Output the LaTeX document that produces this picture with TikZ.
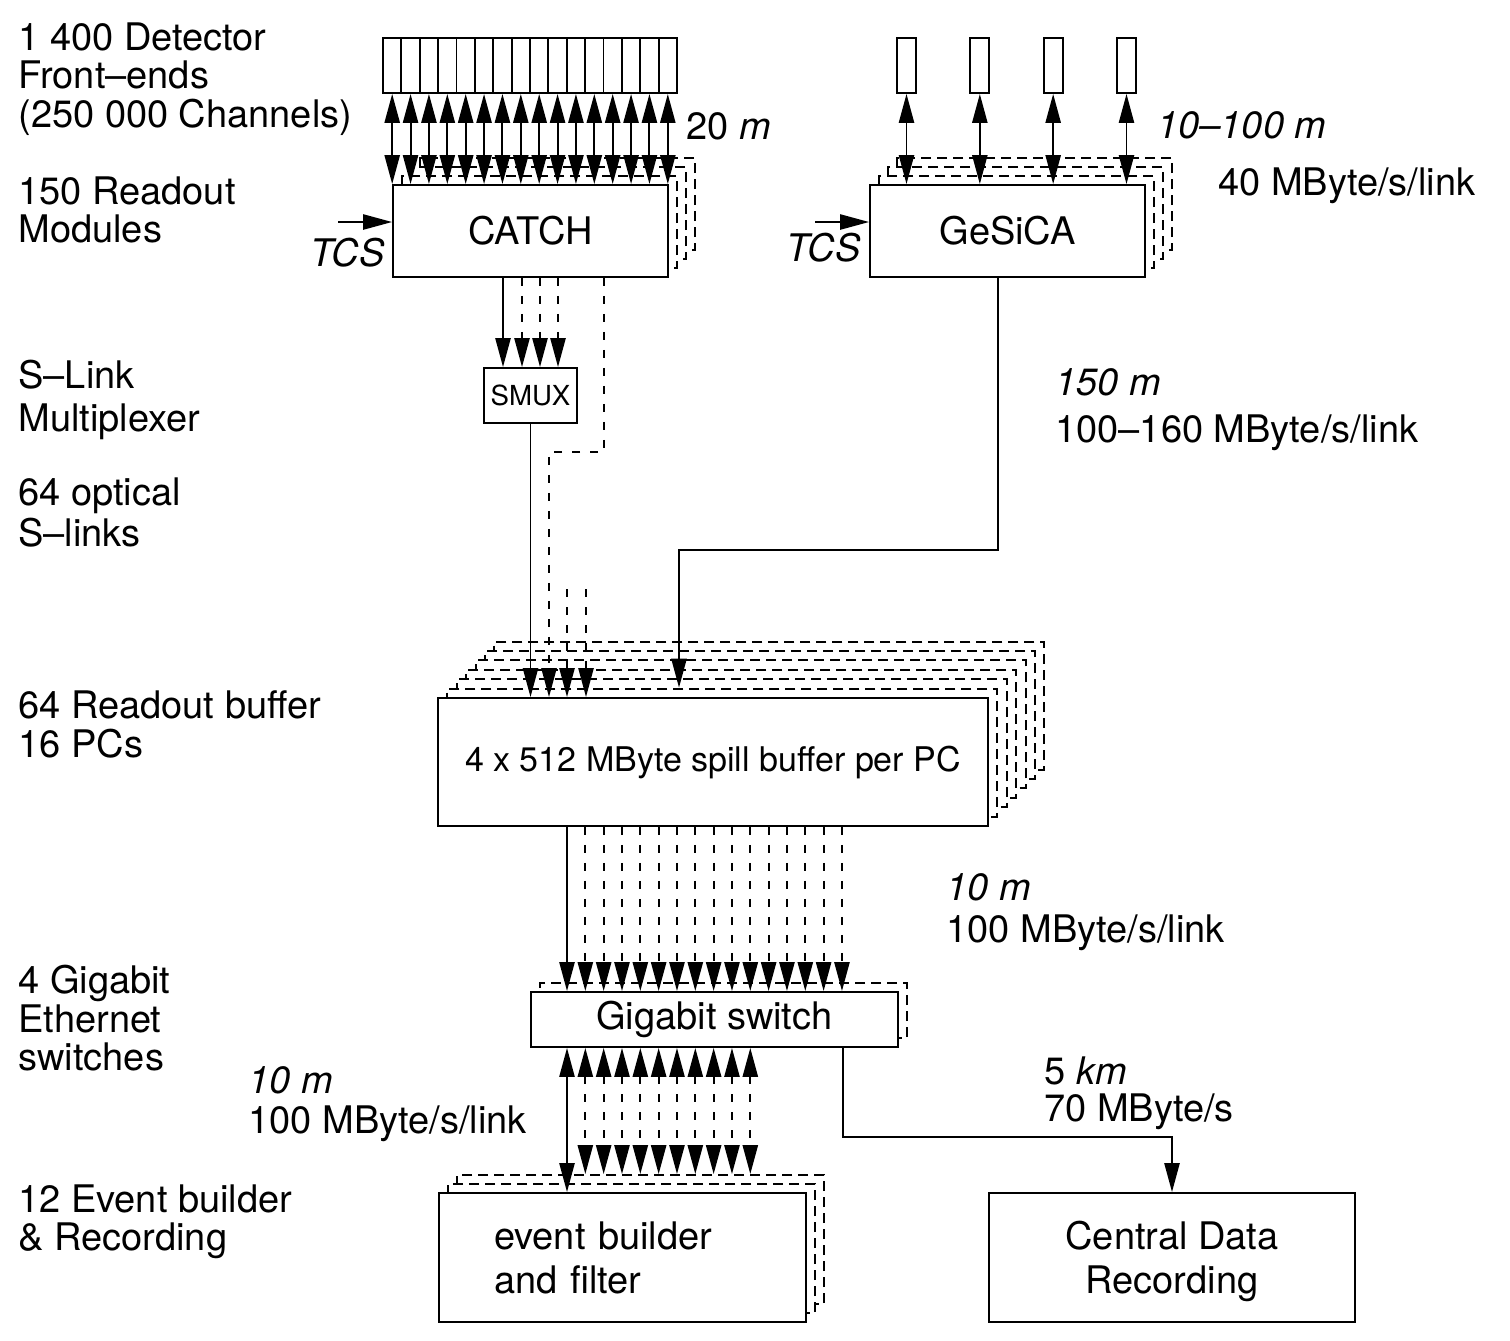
\documentclass[tikz,border=0pt]{standalone}
\usepackage{fontspec}
\setmainfont{TeX Gyre Heros}
\usetikzlibrary{arrows.meta,calc}
\begin{document}
\begin{tikzpicture}[x=0.5pt,y=-0.5pt,
  ln/.style={line width=0.95pt},
  dl/.style={line width=0.95pt, dash pattern=on 4pt off 5pt},
  box/.style={draw, line width=0.95pt, fill=white, inner sep=0pt, font=\fontsize{19}{22}\selectfont},
  stk/.style={draw, line width=0.95pt, fill=white, dash pattern=on 5pt off 3pt, inner sep=0pt},
  fe/.style={draw, line width=0.95pt, fill=white, inner sep=0pt, minimum height=27.5pt},
  lab/.style={anchor=base west, inner sep=0pt, font=\fontsize{19}{22}\selectfont},
  tip/.style={-{Triangle[length=14.5pt,width=7.6pt]}},
  dtip/.style={{Triangle[length=14.5pt,width=7.6pt]}-{Triangle[length=14.5pt,width=7.6pt]}},
]
\useasboundingbox[fill=white] (0,0) rectangle (1510,1340);

% ---------------- left labels ----------------
\node[lab] (la1) at (18,50) {1 400 Detector};
\node[lab] (la2) at (18,88) {Front–ends};
\node[lab] (la3) at (18,127) {(250 000 Channels)};
\node[lab] (lb1) at (18,204) {150 Readout};
\node[lab] (lb2) at (18,242) {Modules};
\node[lab] (lc1) at (18,388) {S–Link};
\node[lab] (lc2) at (18,431) {Multiplexer};
\node[lab] (ld1) at (18,505) {64 optical};
\node[lab] (ld2) at (18,546) {S–links};
\node[lab] (le1) at (18,718) {64 Readout buffer};
\node[lab] (le2) at (18,757) {16 PCs};
\node[lab] (lf1) at (18,993) {4 Gigabit};
\node[lab] (lf2) at (18,1032) {Ethernet};
\node[lab] (lf3) at (18,1070) {switches};
\node[lab] (lg1) at (18,1212) {12 Event builder};
\node[lab] (lg2) at (18,1250) {\& Recording};
\node[lab] (lh1) at (248,1093) {\itshape 10 m};
\node[lab] (lh2) at (248,1133) {100 MByte/s/link};

% ---------------- right labels ----------------
\node[lab] (r1) at (686,139) {20 \textit{m}};
\node[lab] (r2) at (1157,138) {\itshape 10–100 m};
\node[lab] (r3) at (1218,195) {40 MByte/s/link};
\node[lab] (r4) at (1055,395) {\itshape 150 m};
\node[lab] (r5) at (1055,442) {100–160 MByte/s/link};
\node[lab] (r6) at (946,900) {\itshape 10 m};
\node[lab] (r7) at (946,942) {100 MByte/s/link};
\node[lab] (r8) at (1044,1084) {5 \textit{km}};
\node[lab] (r9) at (1044,1121) {70 MByte/s};

% ---------------- CATCH ----------------
\foreach \k in {3,2,1} {
  \pgfmathsetmacro\s{\k*4.5}
  \node[stk, minimum width=137.5pt, minimum height=46pt, xshift=\s pt, yshift=\s pt] at (530.5,231) {};
}
\node[box, minimum width=137.5pt, minimum height=46pt] (catch) at (530.5,231) {CATCH};
\foreach \i in {1,...,16} {
  \node[fe, minimum width=9.1875pt] (fe\i) at ({383+18.375*(\i-0.5)},65.5) {};
}
\foreach \i in {1,...,16} {
  \draw[ln,dtip] (fe\i.south) -- (fe\i.south |- catch.north);
}
\coordinate (tcsa) at (338,222);
\draw[ln,tip] (tcsa) -- (tcsa -| catch.west);
\node[lab] (tcs1) at (310,266) {\itshape TCS};

% ---------------- GeSiCA ----------------
\foreach \k in {3,2,1} {
  \pgfmathsetmacro\s{\k*4.5}
  \node[stk, minimum width=137.5pt, minimum height=46pt, xshift=\s pt, yshift=\s pt] at (1007.5,231) {};
}
\node[box, minimum width=137.5pt, minimum height=46pt] (gesica) at (1007.5,231) {GeSiCA};
\foreach \i in {1,...,4} {
  \node[fe, minimum width=9.5pt] (gf\i) at ({906.5+73.33*(\i-1)},65.5) {};
}
\foreach \i in {1,...,4} {
  \draw[ln,dtip] (gf\i.south) -- (gf\i.south |- gesica.north);
}
\coordinate (tcsb) at (815,222);
\draw[ln,tip] (tcsb) -- (tcsb -| gesica.west);
\node[lab] (tcs2) at (786,261) {\itshape TCS};

% ---------------- SMUX ----------------
\node[box, minimum width=46.5pt, minimum height=27.5pt, font=\fontsize{13.8}{16}\selectfont] (smux) at (530.5,395.5) {SMUX};

% ---------------- Readout buffer ----------------
\foreach \k in {6,5,4,3,2,1} {
  \pgfmathsetmacro\s{\k*4.7}
  \node[stk, minimum width=275pt, minimum height=64pt, xshift=\s pt, yshift=\s pt] at (713,762) {};
}
\node[box, minimum width=275pt, minimum height=64pt, font=\fontsize{17}{20}\selectfont] (buf) at (713,762) {4 x 512 MByte spill buffer per PC};

% ---------------- Gigabit switch ----------------
\node[stk, minimum width=183.5pt, minimum height=27.5pt, xshift=4.5pt, yshift=4.5pt] at (714.5,1019.5) {};
\node[box, minimum width=183.5pt, minimum height=27.5pt] (sw) at (714.5,1019.5) {Gigabit switch};

% ---------------- Event builder ----------------
\foreach \k in {2,1} {
  \pgfmathsetmacro\s{\k*4.5}
  \node[stk, minimum width=183.5pt, minimum height=64.5pt, xshift=\s pt, yshift=\s pt] at (622.5,1257.5) {};
}
\node[box, minimum width=183.5pt, minimum height=64.5pt, align=left, text width=128.5pt, inner xsep=27.5pt] (eb) at (622.5,1257.5) {event builder\\and filter};

% ---------------- Central Data Recording ----------------
\node[box, minimum width=183pt, minimum height=64.5pt, align=center] (cdr) at (1172,1257.5) {Central Data\\\smash{Recording}};

% ---------------- CATCH -> SMUX ----------------
\coordinate (c1) at (503,0);
\coordinate (c2) at (522,0);
\coordinate (c3) at (540,0);
\coordinate (c4) at (558,0);
\draw[ln,tip] (c1 |- catch.south) -- (c1 |- smux.north);
\foreach \c in {c2,c3,c4} {
  \draw[dl,tip] (\c |- catch.south) -- (\c |- smux.north);
}

% ---------------- to readout buffer ----------------
\draw[ln,tip] (smux.south) -- (smux.south |- buf.north);
\coordinate (d1) at (604,452);
\coordinate (d2) at (549,452);
\draw[dl,tip] (d1 |- catch.south) -- (d1) -- (d2) -- (d2 |- buf.north);
\coordinate (d3) at (567,589);
\coordinate (d4) at (586,589);
\draw[dl,tip] (d3) -- (d3 |- buf.north);
\draw[dl,tip] (d4) -- (d4 |- buf.north);
\coordinate (g1) at (998,550);
\coordinate (g2) at (679,550);
\draw[ln,tip] (g1 |- gesica.south) -- (g1) -- (g2) -- ($(g2 |- buf.north)+(0,-9.4)$);

% ---------------- buffer -> switch ----------------
\foreach \j in {0,...,15} {
  \coordinate (b\j) at ({567+18.33*\j},0);
}
\draw[ln,tip] (b0 |- buf.south) -- (b0 |- sw.north);
\foreach \j in {1,...,15} {
  \draw[dl,tip] (b\j |- buf.south) -- (b\j |- sw.north);
}

% ---------------- switch <-> event builder ----------------
\draw[ln,dtip] (b0 |- sw.south) -- (b0 |- eb.north);
\foreach \j in {1,...,10} {
  \draw[dl,dtip] (b\j |- sw.south) -- ($(b\j |- eb.north)+(0,-18)$);
}

% ---------------- switch -> central data recording ----------------
\coordinate (s1) at (843,1137);
\draw[ln,tip] (s1 |- sw.south) -- (s1) -- (cdr.north |- s1) -- (cdr.north);

\end{tikzpicture}
\end{document}
